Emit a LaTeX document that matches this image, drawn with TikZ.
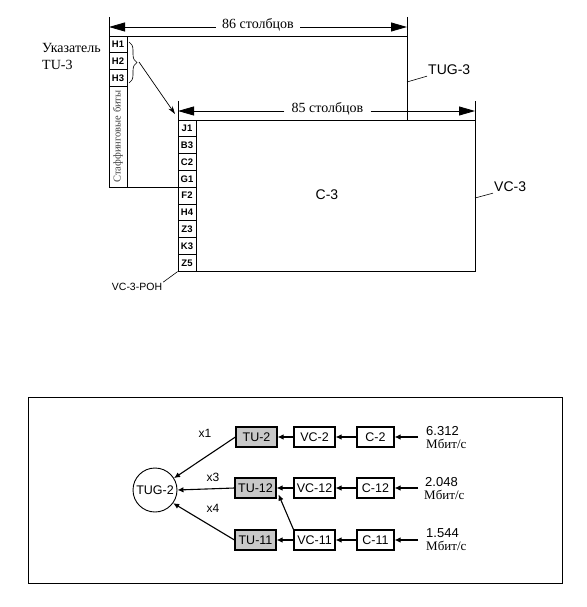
\documentclass[tikz,border=0pt]{standalone}
\usepackage{fontspec}
\setmainfont{Liberation Serif}
\setsansfont{Liberation Sans}
\usetikzlibrary{arrows.meta,decorations.pathreplacing,calc}
\definecolor{tugray}{RGB}{200,200,200}
\begin{document}
\begin{tikzpicture}[x=1pt,y=-1pt,
  frame/.style={line width=0.9pt},
  cell/.style={draw,line width=0.8pt,minimum width=18pt,minimum height=16.8pt,inner sep=0pt,
    font=\sffamily\bfseries\fontsize{9.5}{10}\selectfont},
  hcell/.style={cell,minimum height=16.7pt},
  dim/.style={line width=0.8pt,-{Triangle[length=16pt,width=9pt]}},
  serifbig/.style={font=\fontsize{14}{17}\selectfont},
  lbl/.style={font=\sffamily\fontsize{14}{16}\selectfont},
  lead/.style={line width=0.6pt},
  box/.style={draw,line width=1.1pt,minimum height=20pt,inner sep=0pt,
    font=\sffamily\fontsize{12.5}{14}\selectfont},
  tubox/.style={box,fill=tugray,minimum width=41pt},
  vcbox/.style={box,minimum width=41pt},
  cbox/.style={box,minimum width=37pt},
  arr/.style={line width=1.1pt,-{Latex[length=6pt,width=5.5pt]}},
  mult/.style={font=\sffamily\fontsize{12}{14}\selectfont},
  rate/.style={font=\sffamily\fontsize{13}{14}\selectfont,anchor=west,inner sep=0pt},
  unit/.style={font=\fontsize{13}{14}\selectfont,anchor=west,inner sep=0pt}
]
\useasboundingbox (0,0) rectangle (586,607);

% ---------- TUG-3 frame ----------
\draw[frame] (109,17) -- (109,187) -- (178,187);
\draw[frame] (109,36) -- (407,36);
\draw[frame] (407,17) -- (407,120);
\node[hcell] (h1) at (118,44.4) {H1};
\node[hcell] (h2) at (118,61.1) {H2};
\node[hcell] (h3) at (118,77.8) {H3};
\node[draw,line width=0.8pt,minimum width=18pt,minimum height=101pt,inner sep=0pt] (stuff) at (118,136.5) {};
\node[rotate=90,font=\fontsize{10.5}{12}\selectfont,text=black!75] at (stuff.center) {Стаффинговые биты};

% dimension 86
\coordinate (t86l) at (109,27);
\coordinate (t86r) at (407,27);
\node[serifbig,inner xsep=6pt,inner ysep=0pt] (n86) at (258,25) {86 столбцов};
\draw[dim] (n86.west |- t86l) -- (t86l);
\draw[dim] (n86.east |- t86r) -- (t86r);

% pointer label
\node[serifbig,align=left,anchor=west,inner sep=0pt] (ptr) at (42,56.5) {Указатель\\TU-3};

% brace and arrow
\draw[decorate,decoration={brace,amplitude=8pt},line width=0.6pt] (129,42) -- (129,83);
\coordinate (btip) at (139,62);
\coordinate (vctip) at (175,114);
\draw[line width=0.7pt,-{Stealth[length=8pt,width=5pt]}] (btip) -- (vctip);

% TUG-3 label
\node[lbl,anchor=west,inner sep=1pt] (tugl) at (427,70) {TUG-3};
\coordinate (tugfoot) at (407,82);
\draw[lead] (tugfoot) -- (tugl.south west);

% ---------- VC-3 frame ----------
\draw[frame] (178,101) -- (178,271) -- (475,271) -- (475,101);
\draw[frame] (178,120) -- (475,120);
\foreach \t [count=\i from 0] in {J1,B3,C2,G1,F2,H4,Z3,K3,Z5}{
  \node[cell] (poh\i) at (187,{120+16.8*(\i+0.5)}) {\t};
}
% dimension 85
\coordinate (t85l) at (178,111);
\coordinate (t85r) at (475,111);
\node[serifbig,inner xsep=7pt,inner ysep=0pt] (n85) at (327.5,109) {85 столбцов};
\draw[dim] (n85.west |- t85l) -- (t85l);
\draw[dim] (n85.east |- t85r) -- (t85r);

\node[lbl] (c3) at (327,195) {C-3};
\node[lbl,anchor=west,inner sep=1pt] (vcl) at (493,187) {VC-3};
\coordinate (vcfoot) at (475,198);
\draw[lead] (vcfoot) -- (vcl.south west);

\node[font=\sffamily\fontsize{10.5}{12}\selectfont,inner sep=1pt] (pohl) at (137,287) {VC-3-POH};
\draw[lead] (poh8.south west) -- (pohl.north east);

% ---------- TUG-2 structure ----------
\draw[line width=1pt] (28,397) rectangle (562,583);

\node[draw,circle,line width=0.9pt,minimum size=44pt,inner sep=0pt,
  font=\sffamily\fontsize{12.5}{14}\selectfont] (tug) at (155,490) {TUG-2};

\node[tubox] (tu2)  at (256.5,437) {TU-2};
\node[vcbox] (vc2)  at (314.5,437) {VC-2};
\node[cbox]  (c2)   at (375.5,437) {C-2};
\node[tubox] (tu12) at (255.5,488) {TU-12};
\node[vcbox] (vc12) at (314.5,488) {VC-12};
\node[cbox]  (c12)  at (375.5,488) {C-12};
\node[tubox] (tu11) at (255.5,540) {TU-11};
\node[vcbox] (vc11) at (314.5,540) {VC-11};
\node[cbox]  (c11)  at (375.5,540) {C-11};

\coordinate (in2)  at (418,437);
\coordinate (in12) at (418,488);
\coordinate (in11) at (418,540);

\draw[arr] (in2) -- (c2);
\draw[arr] (c2) -- (vc2);
\draw[arr] (vc2) -- (tu2);
\draw[arr] (in12) -- (c12);
\draw[arr] (c12) -- (vc12);
\draw[arr] (vc12) -- (tu12);
\draw[arr] (in11) -- (c11);
\draw[arr] (c11) -- (vc11);
\draw[arr] (vc11) -- (tu11);
\draw[arr] (vc11.north west) -- ([xshift=2pt,yshift=4pt]tu12.south east);

\draw[arr] (tu2.west) -- (tug.32);
\draw[arr] (tu12.west) -- (tug.east);
\draw[arr] (tu11.west) -- (tug.-36);

\node[mult] (m1) at (205,433) {x1};
\node[mult] (m3) at (213,477) {x3};
\node[mult] (m4) at (213,508) {x4};

\node[rate] (r2)  at (426,431) {6.312};
\node[unit] (u2)  at (426,444) {Мбит/с};
\node[rate] (r12) at (425,482) {2.048};
\node[unit] (u12) at (424,495) {Мбит/с};
\node[rate] (r11) at (426,533) {1.544};
\node[unit] (u11) at (426,546) {Мбит/с};
\end{tikzpicture}
\end{document}
